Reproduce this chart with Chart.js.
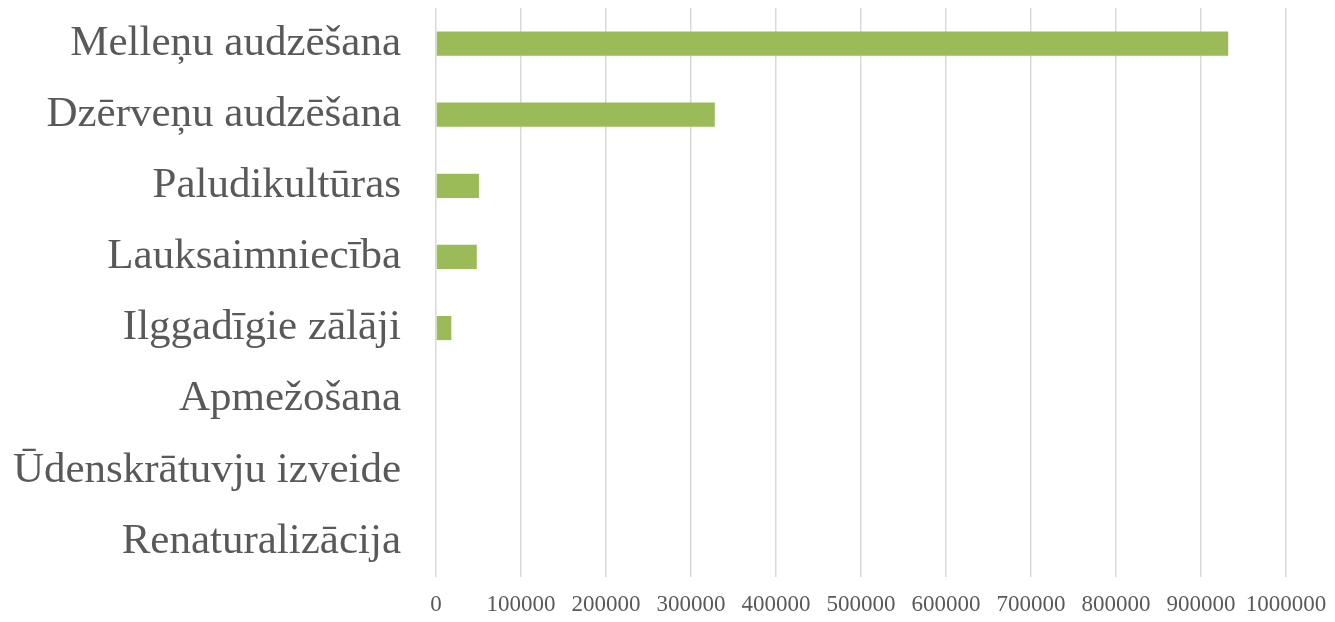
<!DOCTYPE html>
<html>
<head>
<meta charset="utf-8">
<script src="https://cdn.jsdelivr.net/npm/chart.js@4"></script>
<style>
  html, body { margin: 0; padding: 0; background: #fff; }
  #wrap { width: 1335px; height: 622px; }
</style>
</head>
<body>
<div id="wrap"><canvas id="c" width="1335" height="622"></canvas></div>
<script>
const categories = ['Melleņu audzēšana', 'Dzērveņu audzēšana', 'Paludikultūras', 'Lauksaimniecība',
  'Ilggadīgie zālāji', 'Apmežošana', 'Ūdenskrātuvju izveide', 'Renaturalizācija'];
const values = [932000, 328000, 50500, 48000, 18000, 0, 0, 0];
const xTicks = [0, 100000, 200000, 300000, 400000, 500000, 600000, 700000, 800000, 900000, 1000000];

const serif = "'Liberation Serif', 'Times New Roman', serif";
const text = '#595959';

new Chart(document.getElementById('c'), {
  type: 'bar',
  data: {
    labels: categories,
    datasets: [{ data: values, backgroundColor: '#9bbb59', borderWidth: 0,
      barPercentage: 0.34, categoryPercentage: 1 }],
  },
  options: {
    indexAxis: 'y', responsive: false, animation: false,
    layout: { padding: { top: 8, right: 49, left: 0, bottom: 0 } },
    plugins: { legend: { display: false }, tooltip: { enabled: false } },
    scales: {
      x: {
        min: 0, max: 1000000,
        afterBuildTicks: (axis) => { axis.ticks = xTicks.map((v) => ({ value: v })); },
        afterFit: (axis) => { axis.height = 45; axis.paddingLeft = 0; axis.paddingRight = 0; },
        grid: { color: '#d9d9d9', lineWidth: 1.5, drawTicks: false },
        border: { display: false },
        ticks: { color: text, font: { family: serif, size: 23 }, padding: 14, maxRotation: 0, autoSkip: false,
          callback: (v) => String(v) },
      },
      y: {
        afterFit: (axis) => { axis.width = 436; axis.paddingTop = 0; axis.paddingBottom = 0; },
        grid: { display: false }, border: { display: false },
        ticks: { color: text, font: { family: serif, size: 43 }, padding: 27 },
      },
    },
  },
});
</script>
</body>
</html>
